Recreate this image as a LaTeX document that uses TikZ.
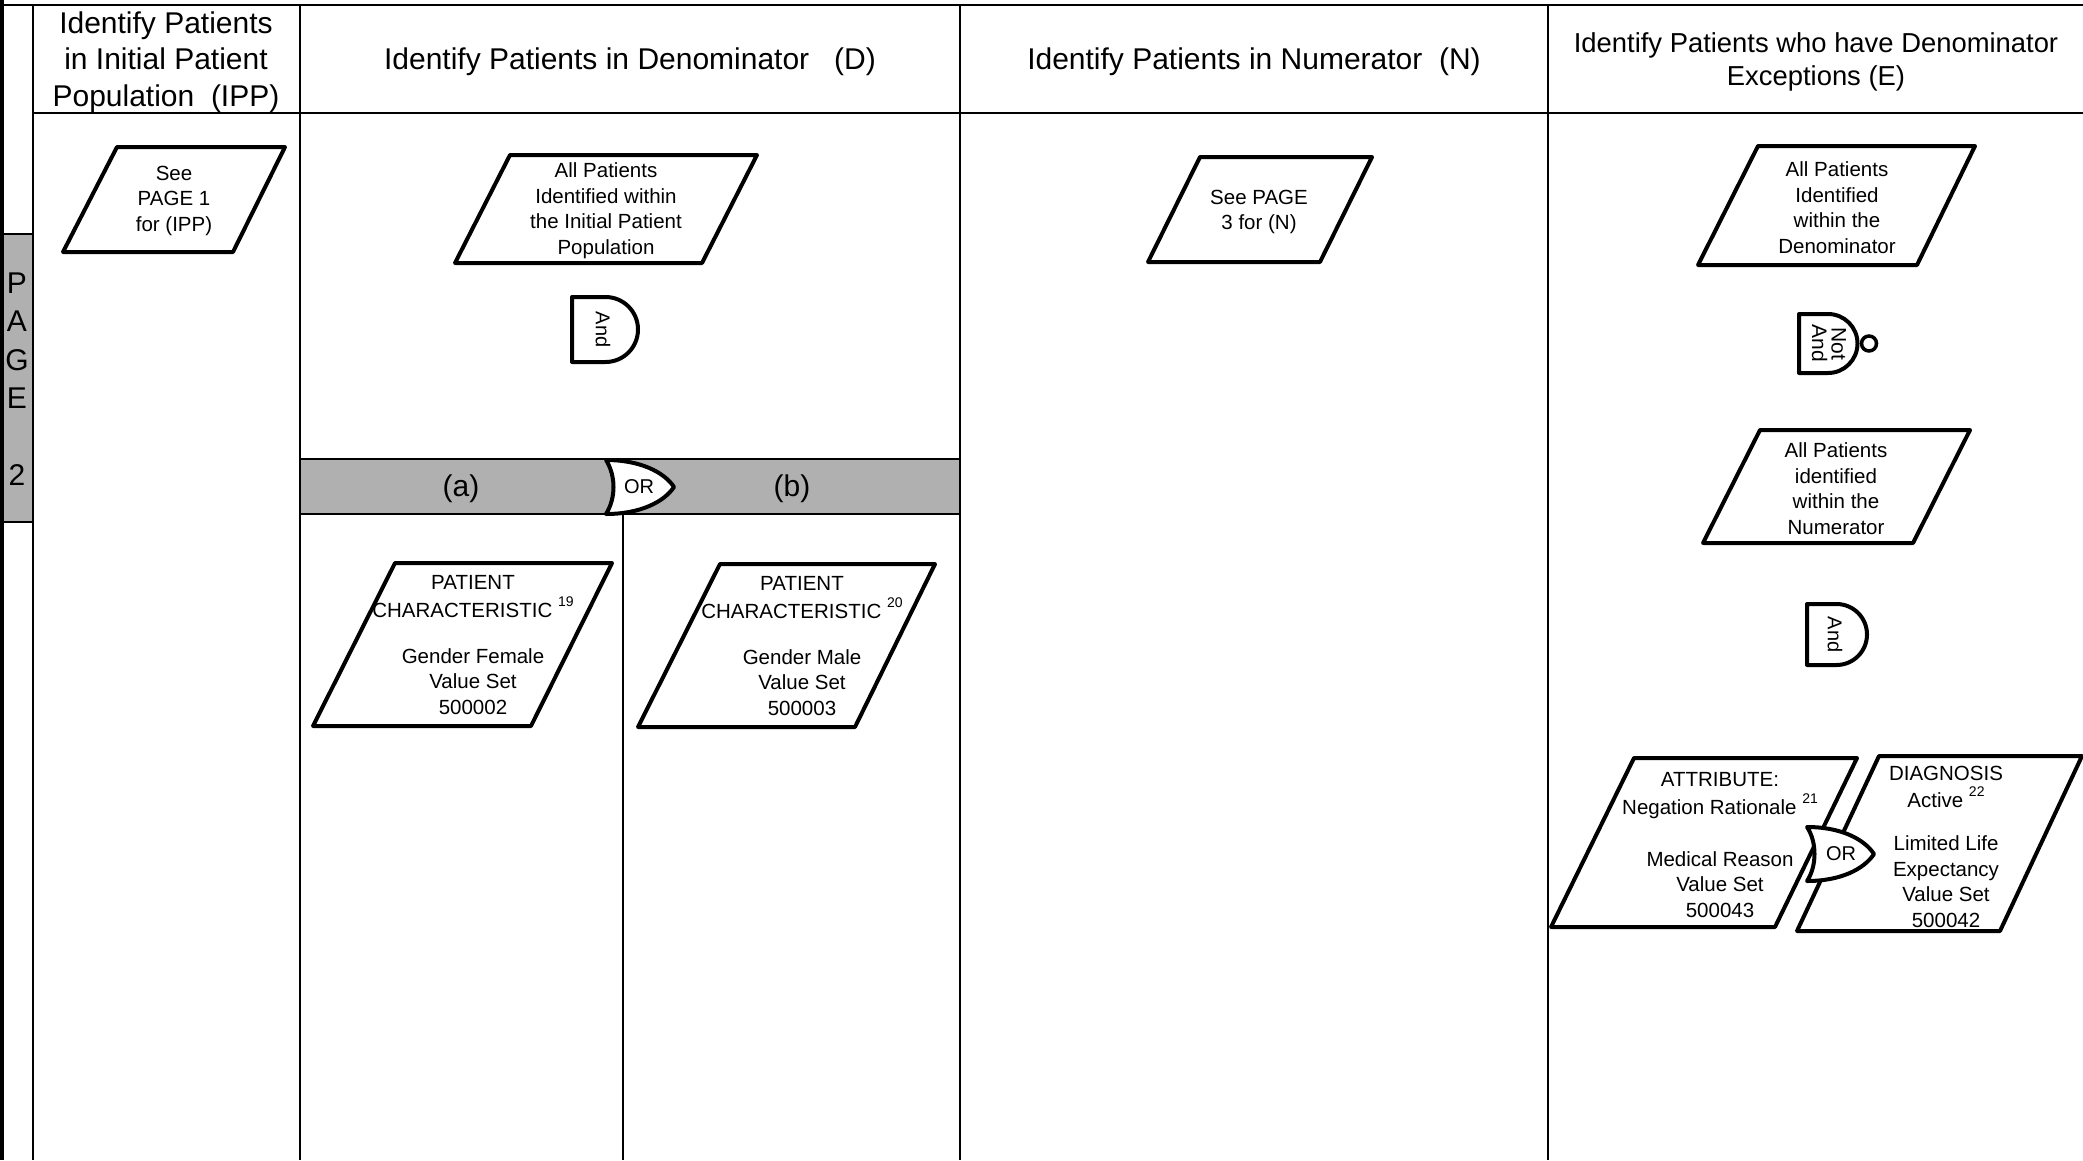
\documentclass[tikz,border=0pt]{standalone}
\usepackage{fontspec}
\setmainfont{Liberation Sans}
\definecolor{bandgray}{RGB}{176,176,176}
\newcommand{\supnum}[1]{\raisebox{0.55em}{\fontsize{14}{14}\selectfont #1}}
\begin{document}
\begin{tikzpicture}[x=1pt,y=-1pt,
  gridline/.style={line width=2pt},
  box/.style={line width=4pt, line join=round, fill=white},
  gate/.style={line width=4pt, line join=round, fill=white},
  hdr/.style={align=center, inner sep=0pt, font=\fontsize{30}{36.5}\selectfont},
  txt/.style={align=center, inner sep=0pt, font=\fontsize{20.5}{25.5}\selectfont},
  gatetxt/.style={align=center, inner sep=0pt, font=\fontsize{20}{19}\selectfont},
  thinline/.style={line width=1.5pt}]

% canvas
\useasboundingbox (0,0) rectangle (2083,1160);
\fill[white] (0,0) rectangle (2083,1160);

% swim-lane grid
\fill[bandgray] (4,234) rectangle (33,522);
\draw[thinline] (4,234) -- (33,234) (4,522) -- (33,522);
\fill[bandgray] (300,459) rectangle (960,514);
\draw[thinline] (300,459) -- (960,459) (300,514) -- (960,514);
\draw[line width=4pt] (2,0) -- (2,1160);
\draw[gridline] (0,5) -- (2083,5);
\draw[gridline] (33,5) -- (33,1160);
\draw[gridline] (300,5) -- (300,1160);
\draw[gridline] (960,5) -- (960,1160);
\draw[gridline] (1548,5) -- (1548,1160);
\draw[gridline] (33,113) -- (2083,113);

% page marker
\node[align=center, inner sep=0pt, font=\fontsize{30}{38.4}\selectfont] (pagemark) at (17,379) {P\\A\\G\\E\\ \\2};

% lane headers
\node[hdr] (hIPP) at (166,62) {Identify Patients\\in Initial Patient\\Population\ \ (IPP)};
\node[hdr] (hD) at (630,62) {Identify Patients in Denominator\ \ \ (D)};
\node[hdr] (hN) at (1254,62) {Identify Patients in Numerator\ \ (N)};
\node[hdr, font=\fontsize{27.4}{33}\selectfont] (hE) at (1816,62) {Identify Patients who have Denominator\\Exceptions (E)};

% IPP lane
\draw[box] (117,147) -- (285,147) -- (233,252) -- (63,252) -- cycle;
\node[txt] (ipp) at (174,200.5) {See\\PAGE 1\\for (IPP)};

% Denominator lane
\draw[box] (510,155) -- (757,155) -- (702,263) -- (455,263) -- cycle;
\node[txt] (dAll) at (606,210.5) {All Patients\\Identified within\\the Initial Patient\\Population};
\draw[gate] (572,297) -- (605.5,297) arc[start angle=-90,end angle=90,radius=32.5] -- (572,362) -- cycle;
\node[gatetxt, rotate=-90] (dAnd) at (603,329.5) {And};

\node[hdr] (la) at (461,489) {(a)};
\node[hdr] (lb) at (792,489) {(b)};
\coordinate (orAfoot) at (623,512);
\coordinate (abfoot) at (623,1160);
\draw[thinline] (orAfoot) -- (abfoot);
\draw[gate] (606,460) .. controls (640,460) and (664,472) .. (674,487)
  .. controls (664,502) and (640,514) .. (606,514)
  .. controls (616,498) and (616,476) .. (606,460) -- cycle;
\node[gatetxt] (orA) at (639,487) {OR};

\draw[box] (395,563) -- (612,563) -- (531,726) -- (313,726) -- cycle;
\node[txt] (female) at (473,645) {PATIENT\\[2.5pt]CHARACTERISTIC \supnum{19}\\[20.5pt]Gender Female\\Value Set\\500002};
\draw[box] (720,564) -- (935,564) -- (855,727) -- (638,727) -- cycle;
\node[txt] (male) at (802,646) {PATIENT\\[2.5pt]CHARACTERISTIC \supnum{20}\\[20.5pt]Gender Male\\Value Set\\500003};

% Numerator lane
\draw[box] (1200,157) -- (1372,157) -- (1320,262) -- (1148,262) -- cycle;
\node[txt] (num) at (1259,212) {See PAGE\\3 for (N)};

% Exceptions lane
\draw[box] (1758,146) -- (1975,146) -- (1917,265) -- (1698,265) -- cycle;
\node[txt] (eDen) at (1837,207.5) {All Patients\\Identified\\within the\\Denominator};
\draw[gate] (1799,314) -- (1828,314) arc[start angle=-90,end angle=90,radius=29.5] -- (1799,373) -- cycle;
\draw[line width=3.5pt, fill=white] (1869,343.5) circle[radius=7.5];
\node[gatetxt, font=\fontsize{21}{19.5}\selectfont, rotate=-90] (eNand) at (1829,343.5) {Not\\And};

\draw[box] (1760,430) -- (1970,430) -- (1913,543) -- (1703,543) -- cycle;
\node[txt] (eNum) at (1836,488.5) {All Patients\\identified\\within the\\Numerator};
\draw[gate] (1807,604) -- (1836.5,604) arc[start angle=-90,end angle=90,radius=30.5] -- (1807,665) -- cycle;
\node[gatetxt, rotate=-90] (eAnd) at (1835,634.5) {And};

\draw[box] (1634,758) -- (1857,758) -- (1775,927) -- (1551,927) -- cycle;
\node[txt] (medical) at (1720,845) {ATTRIBUTE:\\[2.5pt]Negation Rationale \supnum{21}\\[26.5pt]Medical Reason\\Value Set\\500043};
\draw[box] (1879,756) -- (2082,756) -- (2000,931) -- (1797,931) -- cycle;
\node[txt] (lifeexp) at (1946,847) {DIAGNOSIS\\[1.5pt]Active \supnum{22}\\[17.5pt]Limited Life\\Expectancy\\Value Set\\500042};
\draw[gate] (1807,827) .. controls (1841,827) and (1864,839) .. (1874,854)
  .. controls (1864,869) and (1841,881) .. (1807,881)
  .. controls (1817,866) and (1817,842) .. (1807,827) -- cycle;
\node[gatetxt] (orE) at (1841,854) {OR};

\end{tikzpicture}
\end{document}
